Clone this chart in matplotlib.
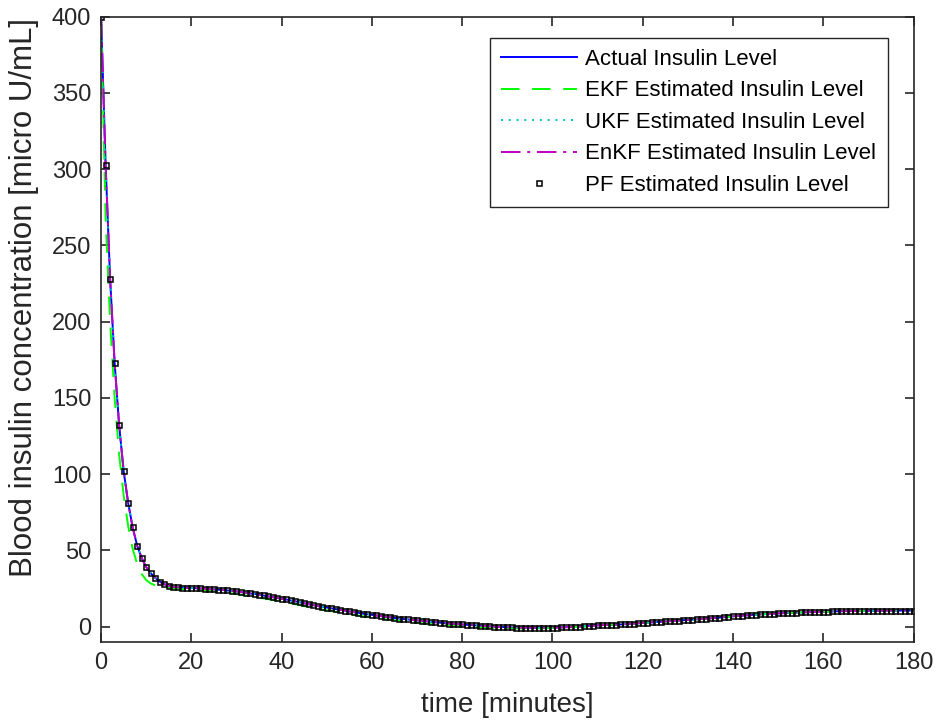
import matplotlib.pyplot as plt
import numpy as np

# time axis: one sample per minute, 0..180
time = np.arange(0, 181)

# actual insulin level
actual = [
    400, 303, 228, 173, 132, 102, 81, 65, 53, 45, 39, 35, 32, 29.5, 27.8, 26.8,
    26.0, 25.8, 25.6, 25.5, 25.4, 25.2,
    25.0, 24.8, 24.6, 24.4, 24.2, 24.0,
    23.7, 23.4, 23.1,
    22.6, 22.2, 21.8, 21.4, 21.0,
    20.4, 19.8, 19.3, 18.8, 18.3,
    17.8, 17.2, 16.6, 16.0, 15.3,
    14.7, 14.1, 13.5, 13.0, 12.5,
    12.0, 11.5, 11.0, 10.5, 10.0,
    9.5, 9.0, 8.5, 8.1, 7.7,
    7.3, 6.9, 6.5, 6.1, 5.7,
    5.3, 5.0, 4.7, 4.4, 4.1,
    3.8, 3.5, 3.2, 2.9, 2.6,
    2.3, 2.0, 1.8, 1.6, 1.4,
    1.2, 1.0, 0.8, 0.6, 0.4,
    0.2, 0.0, -0.2, -0.3, -0.4,
    -0.5, -0.6, -0.7, -0.7, -0.7,
    -0.7, -0.7, -0.7, -0.7, -0.6,
    -0.6, -0.5, -0.4, -0.3, -0.2,
    0.0, 0.2, 0.4, 0.6, 0.8,
    1.0, 1.1, 1.2, 1.3, 1.4,
    1.6, 1.8, 2.0, 2.2, 2.4,
    2.6, 2.8, 3.0, 3.2, 3.4,
    3.6, 3.8, 4.0, 4.2, 4.4,
    4.6, 4.8, 5.0, 5.2, 5.5,
    5.7, 5.9, 6.2, 6.5, 6.8,
    7.0, 7.2, 7.4, 7.6, 7.8,
    8.0, 8.2, 8.3, 8.5, 8.7,
    8.8, 9.0, 9.1, 9.2, 9.3,
    9.4, 9.5, 9.6, 9.7, 9.8,
    9.9, 10.0, 10.1, 10.1, 10.2,
    10.2, 10.3, 10.3, 10.3, 10.4,
    10.4, 10.4, 10.4, 10.5, 10.5,
    10.5, 10.5, 10.5, 10.5, 10.5,
]

# EKF estimate: decays faster at the start, a bit under the actual level later
ekf = [
    400, 268, 200, 150, 113, 86, 66, 51, 41, 34.5, 30.5, 28.3, 27.0, 26.2, 25.7, 25.3,
    25.0, 24.8, 24.6, 24.5, 24.3, 24.1,
    23.9, 23.7, 23.4, 23.1, 22.8, 22.5,
    22.2, 21.8, 21.4,
    20.9, 20.4, 19.9, 19.5, 19.0,
    18.5, 18.0, 17.5, 17.0, 16.5,
    15.9, 15.3, 14.7, 14.1, 13.5,
    12.9, 12.3, 11.8, 11.2, 10.7,
    10.2, 9.7, 9.2, 8.7, 8.2,
    7.7, 7.2, 6.8, 6.4, 6.0,
    5.6, 5.2, 4.8, 4.4, 4.1,
    3.7, 3.4, 3.1, 2.8, 2.5,
    2.2, 1.9, 1.7, 1.4, 1.2,
    1.0, 0.8, 0.5, 0.3, 0.1,
    -0.1, -0.3, -0.4, -0.5, -0.6,
    -0.8, -0.9, -1.0, -1.1, -1.1,
    -1.2, -1.2, -1.2, -1.2, -1.2,
    -1.2, -1.1, -1.1, -1.0, -0.9,
    -0.8, -0.7, -0.6, -0.4, -0.3,
    -0.1, 0.1, 0.3, 0.5, 0.7,
    1.0, 1.1, 1.2, 1.3, 1.4,
    1.6, 1.8, 2.0, 2.2, 2.4,
    2.6, 2.8, 3.0, 3.2, 3.4,
    3.6, 3.8, 4.0, 4.2, 4.4,
    4.6, 4.8, 5.0, 5.2, 5.5,
    5.7, 5.9, 6.2, 6.5, 6.8,
    7.0, 7.2, 7.4, 7.6, 7.8,
    8.0, 8.2, 8.3, 8.5, 8.7,
    8.8, 9.0, 9.1, 9.2, 9.3,
    9.4, 9.5, 9.6, 9.7, 9.8,
    9.9, 10.0, 10.1, 10.1, 10.2,
    10.2, 10.3, 10.3, 10.3, 10.4,
    10.4, 10.4, 10.4, 10.5, 10.5,
    10.5, 10.5, 10.5, 10.5, 10.5,
]

# UKF, EnKF and PF follow the actual level on this scale
ukf = list(actual)
enkf = list(actual)
pf = list(actual)

labels = ["Actual Insulin Level", "EKF Estimated Insulin Level",
          "UKF Estimated Insulin Level", "EnKF Estimated Insulin Level",
          "PF Estimated Insulin Level"]

plt.rcParams["font.family"] = ["Liberation Sans", "DejaVu Sans"]
dark = "#262626"

fig = plt.figure(figsize=(9.36, 7.22), dpi=100)
ax = fig.add_axes([0.108, 0.111, 0.868, 0.866])

ax.plot(time, actual, "-", color="b", lw=1.4, label=labels[0])
ax.plot(time, ekf, "--", color="#00ff00", lw=1.4, dashes=(9.5, 6.5), label=labels[1])
ax.plot(time, ukf, ":", color="c", lw=1.4, dashes=(1, 3), label=labels[2])
ax.plot(time, enkf, "-.", color="m", lw=1.4, dashes=(10, 3.5, 1.5, 3.5), label=labels[3])
ax.plot(time, pf, "s", ls="none", ms=3.6, mew=1.1, mec="k", mfc="none", label=labels[4])

ax.set_xlim(0, 180)
ax.set_ylim(-10, 400)
ax.set_xticks(np.arange(0, 181, 20))
ax.set_yticks(np.arange(0, 401, 50))
ax.tick_params(direction="in", top=True, right=True, length=6.5, width=1.2,
               labelsize=17, colors=dark, pad=7)
for s in ax.spines.values():
    s.set_color(dark)
    s.set_linewidth(1.2)

ax.set_xlabel("time [minutes]", fontsize=20, color=dark)
ax.set_ylabel("Blood insulin concentration [micro U/mL]", fontsize=22.5, color=dark)
ax.xaxis.set_label_coords(0.5, -0.08)
ax.yaxis.set_label_coords(-0.077, 0.55)

leg = ax.legend(loc="upper right", bbox_to_anchor=(0.968, 0.966), borderaxespad=0,
                fontsize=16, handlelength=3.4, handletextpad=0.4, labelspacing=0.47,
                borderpad=0.5, fancybox=False, framealpha=1, numpoints=1)
leg.get_frame().set_edgecolor(dark)
leg.get_frame().set_linewidth(1.0)

fig.savefig("out.png", dpi=100)
